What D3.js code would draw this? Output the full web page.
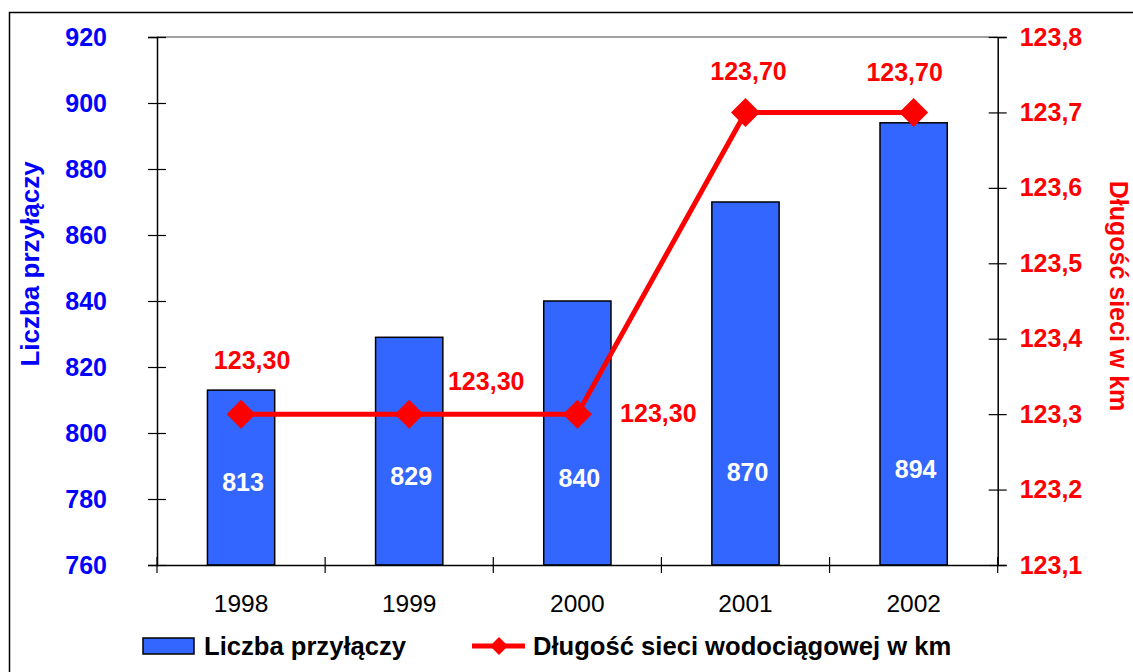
<!DOCTYPE html>
<html>
<head>
<meta charset="utf-8">
<script src="https://cdn.jsdelivr.net/npm/d3@7"></script>
<style>
  html, body { margin: 0; padding: 0; background: #fff; }
  svg { display: block; font-family: "Liberation Sans", Arial, sans-serif; }
</style>
</head>
<body>
<svg id="chart" width="1133" height="672"></svg>
<script>
// ---- data ----
const years = ["1998", "1999", "2000", "2001", "2002"];
const connections = [813, 829, 840, 870, 894];
const networkKm = [123.30, 123.30, 123.30, 123.70, 123.70];
const leftTicks = [760, 780, 800, 820, 840, 860, 880, 900, 920];
const rightTicks = [123.1, 123.2, 123.3, 123.4, 123.5, 123.6, 123.7, 123.8];
const leftTitle = "Liczba przyłączy";
const rightTitle = "Długość sieci w km";
const legendBars = "Liczba przyłączy";
const legendLine = "Długość sieci wodociągowej w km";

// ---- layout ----
const plot = { left: 157, right: 997.7, top: 37, bottom: 565 };
const BLUE_BAR = "#3366FF";
const RED = "#FF0000";
const BLUE_TXT = "#0000FF";
// label placement (layout only)
const lineLabelOffset = [[11, -54], [77, -33], [81, -1], [3, -41], [-9, -40]];
const barLabelCenterOffset = [6, 0, 2, -4, -7];

const svg = d3.select("#chart");

// outer frame
svg.append("rect").attr("x", 9.5).attr("y", 12.5).attr("width", 1200).attr("height", 700)
  .attr("fill", "none").attr("stroke", "#000").attr("stroke-width", 1.5);

const x = d3.scaleBand().domain(years).range([plot.left, plot.right])
  .paddingInner(0.6).paddingOuter(0.3);
const yL = d3.scaleLinear().domain([760, 920]).range([plot.bottom, plot.top]);
const yR = d3.scaleLinear().domain([123.1, 123.8]).range([plot.bottom, plot.top]);

// plot top border (grey)
svg.append("line").attr("x1", plot.left).attr("x2", plot.right)
  .attr("y1", plot.top).attr("y2", plot.top).attr("stroke", "#808080").attr("stroke-width", 1.5);

// bars
svg.append("g").selectAll("rect").data(connections).join("rect")
  .attr("x", (d, i) => x(years[i]))
  .attr("y", d => yL(d))
  .attr("width", x.bandwidth())
  .attr("height", d => yL(760) - yL(d))
  .attr("fill", BLUE_BAR).attr("stroke", "#000").attr("stroke-width", 1.5);

// bar value labels
svg.append("g").selectAll("text").data(connections).join("text")
  .attr("x", (d, i) => x(years[i]) + x.bandwidth() / 2 + 2)
  .attr("y", (d, i) => yL(787) + barLabelCenterOffset[i])
  .attr("dy", "0.36em")
  .attr("text-anchor", "middle").attr("fill", "#fff")
  .attr("font-weight", "bold").attr("font-size", 25)
  .text(d => d);

// left axis
const gL = svg.append("g").attr("transform", `translate(${plot.left},0)`)
  .call(d3.axisLeft(yL).tickValues(leftTicks).tickSize(9).tickPadding(41).tickFormat(d3.format("d")));
gL.select(".domain").attr("stroke", "#000").attr("stroke-width", 1.5);
gL.selectAll(".tick line").attr("x1", 9).attr("stroke", "#000").attr("stroke-width", 1.2);
gL.selectAll(".tick text").attr("fill", BLUE_TXT).attr("font-size", 25).attr("font-weight", "bold")
  .attr("font-family", "Liberation Sans, Arial, sans-serif");

// right axis
const fmtR = v => d3.format(".1f")(v).replace(".", ",");
const gR = svg.append("g").attr("transform", `translate(${plot.right},0)`)
  .call(d3.axisRight(yR).tickValues(rightTicks).tickSize(9).tickPadding(13).tickFormat(fmtR));
gR.select(".domain").attr("stroke", "#000").attr("stroke-width", 1.5);
gR.selectAll(".tick line").attr("x1", -9).attr("stroke", "#000").attr("stroke-width", 1.2);
gR.selectAll(".tick text").attr("fill", RED).attr("font-size", 25).attr("font-weight", "bold")
  .attr("font-family", "Liberation Sans, Arial, sans-serif");

// bottom axis
const gB = svg.append("g").attr("transform", `translate(0,${plot.bottom})`)
  .call(d3.axisBottom(x).tickSize(0).tickPadding(30));
gB.select(".domain").attr("stroke", "#000").attr("stroke-width", 1.5);
gB.selectAll(".tick text").attr("fill", "#000").attr("font-size", 24.5)
  .attr("font-family", "Liberation Sans, Arial, sans-serif");
const step = x.step();
const boundaries = d3.range(years.length + 1).map(i => plot.left + i * step);
gB.selectAll(".bnd").data(boundaries).join("line").attr("class", "bnd")
  .attr("x1", d => d).attr("x2", d => d).attr("y1", -8).attr("y2", 8)
  .attr("stroke", "#000").attr("stroke-width", 1.2);

// line series
const cx = i => x(years[i]) + x.bandwidth() / 2;
const line = d3.line().x((d, i) => cx(i)).y(d => yR(d));
svg.append("path").datum(networkKm).attr("d", line)
  .attr("fill", "none").attr("stroke", RED).attr("stroke-width", 5).attr("stroke-linejoin", "round");

const diamond = h => `M0,${-h}L${h},0L0,${h}L${-h},0Z`;
svg.append("g").selectAll("path").data(networkKm).join("path")
  .attr("transform", (d, i) => `translate(${cx(i)},${yR(d)})`)
  .attr("d", diamond(14.5)).attr("fill", RED);

// line labels
const fmtL = v => d3.format(".2f")(v).replace(".", ",");
svg.append("g").selectAll("text").data(networkKm).join("text")
  .attr("x", (d, i) => cx(i) + lineLabelOffset[i][0])
  .attr("y", (d, i) => yR(d) + lineLabelOffset[i][1])
  .attr("dy", "0.36em").attr("text-anchor", "middle")
  .attr("fill", RED).attr("font-weight", "bold").attr("font-size", 25)
  .text(d => fmtL(d));

// axis titles
svg.append("text").attr("transform", "translate(39,264) rotate(-90)")
  .attr("text-anchor", "middle").attr("fill", BLUE_TXT)
  .attr("font-weight", "bold").attr("font-size", 26).text(leftTitle);
svg.append("text").attr("transform", "translate(1110,296) rotate(90)")
  .attr("text-anchor", "middle").attr("fill", RED)
  .attr("font-weight", "bold").attr("font-size", 25).text(rightTitle);

// legend
const lg = svg.append("g");
lg.append("rect").attr("x", 143).attr("y", 638).attr("width", 51).attr("height", 16)
  .attr("fill", BLUE_BAR).attr("stroke", "#000").attr("stroke-width", 1.5);
lg.append("text").attr("x", 204).attr("y", 655).attr("font-weight", "bold")
  .attr("font-size", 25.6).attr("fill", "#000").text(legendBars);
lg.append("line").attr("x1", 472).attr("x2", 525).attr("y1", 646).attr("y2", 646)
  .attr("stroke", RED).attr("stroke-width", 5);
lg.append("path").attr("transform", "translate(499,646)").attr("d", diamond(9)).attr("fill", RED);
lg.append("text").attr("x", 533).attr("y", 655).attr("font-weight", "bold")
  .attr("font-size", 25.6).attr("fill", "#000").text(legendLine);
</script>
</body>
</html>
